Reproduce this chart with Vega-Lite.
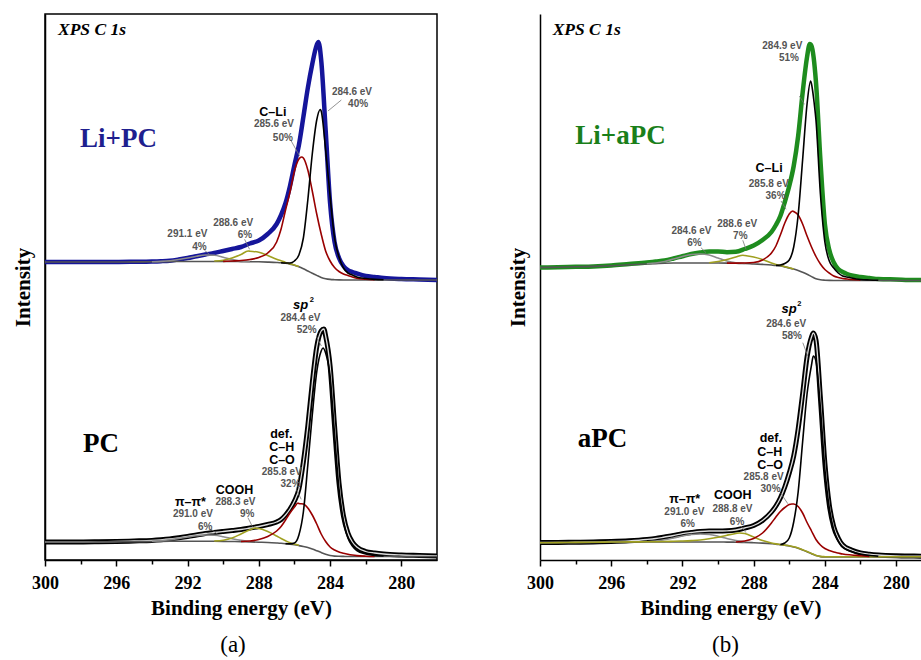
{
"$schema":"https://vega.github.io/schema/vega-lite/v6.json",
"padding":{"left":11,"top":13,"right":0,"bottom":2},
"spacing":66,
"config":{
 "view":{"stroke":"black","strokeWidth":1.5},
 "axis":{"grid":false,"domainColor":"black","domainWidth":1.5,"tickColor":"black","tickWidth":1.5,"labelFont":"Liberation Serif","labelFontSize":18,"labelFontWeight":"bold","labelColor":"black","titleFont":"Liberation Serif","titleFontSize":21,"titleFontWeight":"bold","titleColor":"black"},
 "axisX":{"labelPadding":8,"titlePadding":5,"labelFlush":false,"labelOverlap":false},
 "axisY":{"labels":false,"ticks":false,"titlePadding":12},
 "title":{"font":"Liberation Serif","fontSize":23,"fontWeight":"normal","color":"black","orient":"bottom","offset":16,"frame":"group","anchor":"middle"}
},
"datasets":{
"sa":[
{"sp":"u","x":300,"d":298,"b":298},
{"sp":"u","x":299,"d":298,"b":298},
{"sp":"u","x":298,"d":298,"b":298},
{"sp":"u","x":297,"d":298,"b":298},
{"sp":"u","x":296,"d":298,"b":298},
{"sp":"u","x":295,"d":298.2,"b":298.1},
{"sp":"u","x":294,"d":298.5,"b":298.2,"g":298.2},
{"sp":"u","x":293.5,"d":298.8,"b":298.3,"g":298.6},
{"sp":"u","x":293,"d":299.3,"b":298.4,"g":299.3},
{"sp":"u","x":292.5,"d":300.5,"b":298.5,"g":300.5},
{"sp":"u","x":292,"d":302,"b":298.5,"g":302},
{"sp":"u","x":291.5,"d":303.8,"b":298.5,"g":303.8},
{"sp":"u","x":291,"d":305.5,"b":298.5,"g":305},
{"sp":"u","x":290.5,"d":307,"b":298.5,"g":304.8,"o":299},
{"sp":"u","x":290,"d":309,"b":298.5,"g":302.8,"o":299.8,"r":298.6},
{"sp":"u","x":289.5,"d":311,"b":298.5,"g":300.5,"o":302,"r":299},
{"sp":"u","x":289,"d":313,"b":298.4,"g":299,"o":305.5,"r":299.5},
{"sp":"u","x":288.6,"o":309},
{"sp":"u","x":288.5,"d":316.5,"b":298.3,"g":298.4,"o":308.8,"r":300.5},
{"sp":"u","x":288,"d":319.5,"b":298.2,"o":307.8,"r":302.5},
{"sp":"u","x":287.5,"d":326,"b":297.9,"o":304.5,"r":307},
{"sp":"u","x":287,"d":336,"b":297.5,"o":300.8,"r":318},
{"sp":"u","x":286.75,"d":345,"b":297.2,"o":299.2,"r":331,"k":297.3},
{"sp":"u","x":286.5,"d":357,"b":296.7,"o":297.6,"r":350,"k":297},
{"sp":"u","x":286.25,"d":374,"b":295.9,"o":296.2,"r":368,"k":297},
{"sp":"u","x":286,"d":395,"b":294.8,"o":295,"r":389,"k":299},
{"sp":"u","x":285.75,"d":415,"b":293.2,"o":293.4,"r":401,"k":305},
{"sp":"u","x":285.6,"r":403},
{"sp":"u","x":285.5,"d":443,"b":291.2,"r":402,"k":322},
{"sp":"u","x":285.25,"d":472,"b":289,"r":390,"k":360},
{"sp":"u","x":285,"d":496,"b":286.8,"r":369,"k":406},
{"sp":"u","x":284.75,"d":515,"b":284.6,"r":346,"k":440},
{"sp":"u","x":284.65,"d":518},
{"sp":"u","x":284.55,"k":450.5},
{"sp":"u","x":284.5,"d":500,"b":282.6,"r":326,"k":449},
{"sp":"u","x":284.25,"d":430,"b":281.3,"r":309,"k":410},
{"sp":"u","x":284,"d":357,"b":280.6,"r":299,"k":364},
{"sp":"u","x":283.75,"d":318,"b":280.3,"r":292.5,"k":322},
{"sp":"u","x":283.5,"d":302,"b":280.1,"r":288.5,"k":303},
{"sp":"u","x":283.25,"d":294,"b":280,"r":286,"k":292},
{"sp":"u","x":283,"d":290,"b":280,"r":284.5,"k":287},
{"sp":"u","x":282.75,"d":288,"b":280,"r":283,"k":285},
{"sp":"u","x":282.5,"d":286.5,"b":280,"r":281.8,"k":283},
{"sp":"u","x":282,"d":284,"b":280,"r":280.7,"k":281.5},
{"sp":"u","x":281.5,"d":283,"b":280,"r":280.2,"k":280.6},
{"sp":"u","x":281,"d":282,"b":280,"k":280.2},
{"sp":"u","x":280,"d":281,"b":280},
{"sp":"u","x":279,"d":280.5,"b":280},
{"sp":"u","x":278,"d":280,"b":280},
{"sp":"l","x":300,"d":18,"b":18},
{"sp":"l","x":299,"d":18,"b":18},
{"sp":"l","x":298,"d":18,"b":18},
{"sp":"l","x":297,"d":18.2,"b":18.1},
{"sp":"l","x":296,"d":18.5,"b":18.2},
{"sp":"l","x":295,"d":19,"b":18.3},
{"sp":"l","x":294,"d":19.6,"b":18.5,"g":18.7},
{"sp":"l","x":293.5,"d":20.2,"b":18.6,"g":19.3},
{"sp":"l","x":293,"d":21,"b":18.7,"g":20.3},
{"sp":"l","x":292.5,"d":22.2,"b":18.8,"g":21.6},
{"sp":"l","x":292,"d":23.5,"b":18.8,"g":23},
{"sp":"l","x":291.5,"d":25,"b":18.8,"g":24.3},
{"sp":"l","x":291,"d":26.5,"b":18.8,"g":25},
{"sp":"l","x":290.5,"d":27.5,"b":18.7,"g":24.7,"o":19},
{"sp":"l","x":290,"d":28.5,"b":18.6,"g":23.3,"o":19.8},
{"sp":"l","x":289.5,"d":29.5,"b":18.5,"g":21.3,"o":22},
{"sp":"l","x":289,"d":30.5,"b":18.3,"g":19.6,"o":26,"r":18.5},
{"sp":"l","x":288.5,"d":32,"b":18.1,"g":18.5,"o":30.3,"r":19},
{"sp":"l","x":288.2,"o":32},
{"sp":"l","x":288,"d":33.5,"b":17.8,"o":31.5,"r":20.5},
{"sp":"l","x":287.5,"d":35.5,"b":17.5,"o":28.5,"r":23.5},
{"sp":"l","x":287,"d":38,"b":17,"o":24,"r":29},
{"sp":"l","x":286.75,"d":40.5,"b":16.7,"o":21.5,"r":33.5},
{"sp":"l","x":286.5,"d":45,"b":16.3,"o":19.3,"r":40,"k":16.4},
{"sp":"l","x":286.25,"d":51,"b":15.8,"o":17.3,"r":47,"k":16.2},
{"sp":"l","x":286,"d":59,"b":15.2,"o":16,"r":53,"k":17},
{"sp":"l","x":285.8,"r":57},
{"sp":"l","x":285.75,"d":71,"b":14.4,"o":14.8,"r":56.5,"k":25},
{"sp":"l","x":285.5,"d":98,"b":13.5,"r":56,"k":48},
{"sp":"l","x":285.25,"d":134,"b":12.4,"r":52,"k":95},
{"sp":"l","x":285,"d":177,"b":11,"r":45,"k":145},
{"sp":"l","x":284.75,"d":213,"b":9.3,"r":36,"k":188},
{"sp":"l","x":284.5,"d":229,"b":7.5,"r":26,"k":209},
{"sp":"l","x":284.4,"k":212},
{"sp":"l","x":284.35,"d":231},
{"sp":"l","x":284.25,"d":224,"b":5.8,"r":18.5,"k":207},
{"sp":"l","x":284,"d":194,"b":4.5,"r":13,"k":184},
{"sp":"l","x":283.75,"d":134,"b":3.9,"r":10,"k":126},
{"sp":"l","x":283.5,"d":77,"b":3.7,"r":8,"k":71},
{"sp":"l","x":283.25,"d":44,"b":3.6,"r":6.8,"k":39},
{"sp":"l","x":283,"d":27,"b":3.5,"r":5.8,"k":22},
{"sp":"l","x":282.75,"d":18,"b":3.5,"r":5,"k":14},
{"sp":"l","x":282.5,"d":13,"b":3.5,"r":4.4,"k":9.5},
{"sp":"l","x":282,"d":8.5,"b":3.5,"r":3.8,"k":6},
{"sp":"l","x":281.5,"d":7,"b":3.5,"r":3.5,"k":4.5},
{"sp":"l","x":281,"d":6,"b":3.5,"k":4},
{"sp":"l","x":280,"d":5,"b":3.5},
{"sp":"l","x":279,"d":4.5,"b":3.5},
{"sp":"l","x":278,"d":4,"b":3.5}
],
"sb":[
{"sp":"u","x":300,"d":292.5,"b":292.5},
{"sp":"u","x":299,"d":292.8,"b":292.8},
{"sp":"u","x":298,"d":293.2,"b":293.2},
{"sp":"u","x":297,"d":293.6,"b":293.6},
{"sp":"u","x":296,"d":294.5,"b":294.3},
{"sp":"u","x":295,"d":296,"b":295.2},
{"sp":"u","x":294,"d":297.5,"b":296,"g":296.3},
{"sp":"u","x":293.5,"d":298.5,"b":296.4,"g":297},
{"sp":"u","x":293,"d":299.5,"b":296.8,"g":298.5},
{"sp":"u","x":292.5,"d":301.5,"b":297,"g":301},
{"sp":"u","x":292,"d":303.8,"b":297,"g":303.5},
{"sp":"u","x":291.5,"d":306,"b":297,"g":305.5},
{"sp":"u","x":291,"d":307.5,"b":297,"g":306},
{"sp":"u","x":290.5,"d":308.5,"b":297,"g":305,"o":297.3},
{"sp":"u","x":290,"d":308.5,"b":297,"g":302,"o":298.5},
{"sp":"u","x":289.5,"d":307.8,"b":296.9,"g":299,"o":300.5,"r":296.9},
{"sp":"u","x":289,"d":308.2,"b":296.7,"g":297.2,"o":303,"r":296.9},
{"sp":"u","x":288.6,"o":304.7},
{"sp":"u","x":288.5,"d":311,"b":296.5,"g":296.6,"o":304.5,"r":297},
{"sp":"u","x":288,"d":314.5,"b":296,"o":303,"r":297.5},
{"sp":"u","x":287.5,"d":320,"b":295.6,"o":300.5,"r":300},
{"sp":"u","x":287,"d":328,"b":295,"o":297,"r":307},
{"sp":"u","x":286.75,"d":335,"b":294.5,"o":295.6,"r":314,"k":294.6},
{"sp":"u","x":286.5,"d":344,"b":294,"o":294.5,"r":325,"k":295},
{"sp":"u","x":286.25,"d":358,"b":293.1,"o":293.3,"r":337,"k":296.5},
{"sp":"u","x":286,"d":374,"b":292,"o":292.2,"r":346,"k":300},
{"sp":"u","x":285.8,"r":349},
{"sp":"u","x":285.75,"d":394,"b":290.9,"o":291,"r":348.5,"k":313},
{"sp":"u","x":285.5,"d":424,"b":289.5,"r":345,"k":345},
{"sp":"u","x":285.25,"d":467,"b":287.7,"r":336,"k":400},
{"sp":"u","x":285,"d":503,"b":285.7,"r":324,"k":456},
{"sp":"u","x":284.85,"d":516},
{"sp":"u","x":284.8,"k":479},
{"sp":"u","x":284.75,"d":514,"b":283.4,"r":313,"k":476},
{"sp":"u","x":284.6,"k":457},
{"sp":"u","x":284.5,"d":478,"b":281.2,"r":303.5,"k":440},
{"sp":"u","x":284.25,"d":400,"b":280.2,"r":296,"k":366},
{"sp":"u","x":284,"d":336,"b":279.8,"r":290.5,"k":318},
{"sp":"u","x":283.75,"d":310,"b":279.6,"r":287,"k":299},
{"sp":"u","x":283.5,"d":297.5,"b":279.5,"r":284,"k":292},
{"sp":"u","x":283.25,"d":291,"b":279.5,"r":282.5,"k":287},
{"sp":"u","x":283,"d":288,"b":279.5,"r":281.5,"k":284},
{"sp":"u","x":282.75,"d":286,"b":279.5,"r":281,"k":283},
{"sp":"u","x":282.5,"d":284.5,"b":279.5,"r":280.5,"k":282},
{"sp":"u","x":282,"d":283,"b":279.5,"r":280,"k":280.5},
{"sp":"u","x":281.5,"d":282,"b":279.5,"k":280},
{"sp":"u","x":281,"d":281,"b":279.5,"k":279.7},
{"sp":"u","x":280,"d":280.5,"b":279.5},
{"sp":"u","x":279,"d":280,"b":279.5},
{"sp":"u","x":278.6,"d":280,"b":279.5},
{"sp":"l","x":300,"d":17.5,"b":17,"o":17.2},
{"sp":"l","x":299,"d":17.6,"b":17.2,"o":17.4},
{"sp":"l","x":298,"d":17.8,"b":17.4,"o":17.6},
{"sp":"l","x":297,"d":18.1,"b":17.6,"o":17.8},
{"sp":"l","x":296,"d":18.5,"b":17.8,"o":18},
{"sp":"l","x":295,"d":19.2,"b":17.9,"o":18.1},
{"sp":"l","x":294,"d":20.5,"b":18,"o":18.2,"g":18.3},
{"sp":"l","x":293.5,"d":21.5,"b":18,"o":18.3,"g":19},
{"sp":"l","x":293,"d":23,"b":18,"o":18.5,"g":20.2},
{"sp":"l","x":292.5,"d":24.5,"b":18,"o":18.7,"g":22},
{"sp":"l","x":292,"d":26.3,"b":18,"o":19,"g":24},
{"sp":"l","x":291.5,"d":27.5,"b":18,"o":19.4,"g":25.5},
{"sp":"l","x":291,"d":28.5,"b":18,"o":20,"g":26},
{"sp":"l","x":290.5,"d":29,"b":18,"o":21.2,"g":25.5},
{"sp":"l","x":290,"d":29,"b":18,"o":22.8,"g":23.8},
{"sp":"l","x":289.5,"d":29.2,"b":17.9,"o":24.8,"g":21.5},
{"sp":"l","x":289,"d":30,"b":17.8,"o":26.5,"g":19.5,"r":18},
{"sp":"l","x":288.8,"o":27},
{"sp":"l","x":288.5,"d":32,"b":17.6,"o":26.5,"g":18.2,"r":19},
{"sp":"l","x":288,"d":34.5,"b":17.3,"o":23,"r":21.5},
{"sp":"l","x":287.5,"d":39.5,"b":16.9,"o":19.5,"r":27},
{"sp":"l","x":287,"d":48,"b":16.3,"o":17,"r":37},
{"sp":"l","x":286.75,"d":54,"b":15.9,"o":16.1,"r":43},
{"sp":"l","x":286.5,"d":62,"b":15.3,"o":15.5,"r":48.5,"k":15.5},
{"sp":"l","x":286.25,"d":73,"b":14.7,"o":14.9,"r":52.5,"k":17},
{"sp":"l","x":286,"d":87,"b":14,"o":14.2,"r":55.5,"k":22},
{"sp":"l","x":285.85,"r":56},
{"sp":"l","x":285.75,"d":104,"b":13,"o":13.2,"r":56,"k":38},
{"sp":"l","x":285.5,"d":131,"b":11.7,"o":11.9,"r":53.5,"k":68},
{"sp":"l","x":285.25,"d":166,"b":10.1,"o":10.3,"r":47,"k":118},
{"sp":"l","x":285,"d":203,"b":8.3,"o":8.5,"r":37.5,"k":166},
{"sp":"l","x":284.75,"d":223,"b":6.3,"o":6.5,"r":29,"k":195},
{"sp":"l","x":284.65,"d":227,"k":204},
{"sp":"l","x":284.5,"d":220,"b":4.4,"o":4.6,"r":20.5,"k":199},
{"sp":"l","x":284.25,"d":162,"b":3.4,"o":3.6,"r":15,"k":152},
{"sp":"l","x":284,"d":97,"b":3.1,"o":3.3,"r":11.5,"k":91},
{"sp":"l","x":283.75,"d":55,"b":3,"o":3.2,"r":9.5,"k":52},
{"sp":"l","x":283.5,"d":33,"b":3,"o":3.2,"r":8,"k":30},
{"sp":"l","x":283.25,"d":22,"b":3,"o":3.2,"r":7,"k":19},
{"sp":"l","x":283,"d":15,"b":3,"o":3.2,"r":6,"k":13},
{"sp":"l","x":282.5,"d":10,"b":3,"o":3.2,"r":5,"k":8.5},
{"sp":"l","x":282,"d":7,"b":3,"o":3.2,"r":4.3,"k":6},
{"sp":"l","x":281.5,"d":5.8,"b":3,"o":3.2,"r":3.5,"k":4.5},
{"sp":"l","x":281,"d":5,"b":3,"o":3.2,"k":3.8},
{"sp":"l","x":280,"d":4.2,"b":3,"o":3.2},
{"sp":"l","x":279,"d":3.9,"b":3,"o":3.2},
{"sp":"l","x":278.6,"d":3.8,"b":3,"o":3.2}
],
"ann":[
{"p":"a","c":"v","x":282.77,"y":468,"t":"284.6 eV"},
{"p":"a","c":"v","x":282.43,"y":456.3,"t":"40%"},
{"p":"a","c":"n","x":287.21,"y":448.3,"t":"C–Li"},
{"p":"a","c":"v","x":287.15,"y":435.7,"t":"285.6 eV"},
{"p":"a","c":"v","x":286.65,"y":422.3,"t":"50%"},
{"p":"a","c":"v","x":289.44,"y":336.7,"t":"288.6 eV"},
{"p":"a","c":"v","x":288.78,"y":325,"t":"6%"},
{"p":"a","c":"v","x":292.01,"y":326.3,"t":"291.1 eV"},
{"p":"a","c":"v","x":291.33,"y":313.3,"t":"4%"},
{"p":"a","c":"s","x":285.65,"y":251.5,"t":"sp"},
{"p":"a","c":"sup","x":285.03,"y":260.5,"t":"2"},
{"p":"a","c":"v","x":285.66,"y":242.3,"t":"284.4 eV"},
{"p":"a","c":"v","x":285.31,"y":230,"t":"52%"},
{"p":"a","c":"n","x":286.74,"y":126.3,"t":"def."},
{"p":"a","c":"n","x":286.71,"y":113,"t":"C–H"},
{"p":"a","c":"n","x":286.7,"y":99.7,"t":"C–O"},
{"p":"a","c":"v","x":286.71,"y":87.7,"t":"285.8 eV"},
{"p":"a","c":"v","x":286.22,"y":75.7,"t":"32%"},
{"p":"a","c":"n","x":289.37,"y":70,"t":"COOH"},
{"p":"a","c":"v","x":289.31,"y":58.3,"t":"288.3 eV"},
{"p":"a","c":"v","x":288.65,"y":46.3,"t":"9%"},
{"p":"a","c":"n","x":291.84,"y":58,"t":"π–π*"},
{"p":"a","c":"v","x":291.7,"y":45.7,"t":"291.0 eV"},
{"p":"a","c":"v","x":291.01,"y":33.3,"t":"6%"},
{"p":"a","c":"h","x":299.27,"y":525.5,"t":"XPS C 1s"},
{"p":"a","c":"L1","x":298.03,"y":413,"t":"Li+PC"},
{"p":"a","c":"L2","x":297.87,"y":108,"t":"PC"},
{"p":"b","c":"v","x":286.39,"y":514,"t":"284.9 eV"},
{"p":"b","c":"v","x":286.02,"y":501.7,"t":"51%"},
{"p":"b","c":"n","x":287.13,"y":391.7,"t":"C–Li"},
{"p":"b","c":"v","x":287.15,"y":376.3,"t":"285.8 eV"},
{"p":"b","c":"v","x":286.77,"y":364,"t":"36%"},
{"p":"b","c":"v","x":288.92,"y":336.3,"t":"288.6 eV"},
{"p":"b","c":"v","x":288.75,"y":324,"t":"7%"},
{"p":"b","c":"v","x":291.49,"y":329,"t":"284.6 eV"},
{"p":"b","c":"v","x":291.33,"y":317,"t":"6%"},
{"p":"b","c":"s","x":286.01,"y":247,"t":"sp"},
{"p":"b","c":"sup","x":285.43,"y":256.3,"t":"2"},
{"p":"b","c":"v","x":286.17,"y":236.3,"t":"284.6 eV"},
{"p":"b","c":"v","x":285.85,"y":224,"t":"58%"},
{"p":"b","c":"n","x":287.04,"y":121.7,"t":"def."},
{"p":"b","c":"n","x":287.1,"y":108.3,"t":"C–H"},
{"p":"b","c":"n","x":287.07,"y":95,"t":"C–O"},
{"p":"b","c":"v","x":287.44,"y":83,"t":"285.8 eV"},
{"p":"b","c":"v","x":287.05,"y":70.7,"t":"30%"},
{"p":"b","c":"n","x":289.17,"y":64.7,"t":"COOH"},
{"p":"b","c":"v","x":289.19,"y":51,"t":"288.8 eV"},
{"p":"b","c":"v","x":288.93,"y":38.3,"t":"6%"},
{"p":"b","c":"n","x":291.87,"y":60.7,"t":"π–π*"},
{"p":"b","c":"v","x":291.89,"y":47.7,"t":"291.0 eV"},
{"p":"b","c":"v","x":291.7,"y":35.7,"t":"6%"},
{"p":"b","c":"h","x":299.29,"y":524.7,"t":"XPS C 1s"},
{"p":"b","c":"L1","x":298.02,"y":415.7,"t":"Li+aPC"},
{"p":"b","c":"L2","x":297.88,"y":113.3,"t":"aPC"}
],
"lead":[
{"p":"a","x":283.37,"y":460,"x2":284.12,"y2":449},
{"p":"a","x":286.18,"y":419,"x2":285.71,"y2":404},
{"p":"a","x":288.8,"y":320.7,"x2":288.52,"y2":310.7},
{"p":"a","x":291.05,"y":309.7,"x2":290.77,"y2":305.7},
{"p":"a","x":284.78,"y":224,"x2":284.49,"y2":214},
{"p":"a","x":285.9,"y":70.7,"x2":285.62,"y2":60.7},
{"p":"a","x":288.61,"y":42.3,"x2":288.33,"y2":32.3},
{"p":"a","x":290.67,"y":30.7,"x2":290.3,"y2":25.7},
{"p":"b","x":285.43,"y":464,"x2":285.15,"y2":455.7},
{"p":"b","x":286.46,"y":359,"x2":286.18,"y2":350.7},
{"p":"b","x":288.61,"y":319.7,"x2":288.43,"y2":310.7},
{"p":"b","x":290.96,"y":312.3,"x2":290.67,"y2":307.3},
{"p":"b","x":285.24,"y":217.3,"x2":284.96,"y2":204},
{"p":"b","x":286.46,"y":66.3,"x2":286.08,"y2":56.3},
{"p":"b","x":288.71,"y":34,"x2":288.43,"y2":27.3}
]
},
"hconcat":[
{
 "width":392,"height":546,
 "title":{"text":"(a)","dx":-8},
 "encoding":{
  "x":{"field":"x","type":"quantitative","scale":{"domain":[278,300],"reverse":true,"nice":false,"zero":false},
   "axis":{"title":"Binding energy (eV)","values":[300,298,296,294,292,290,288,286,284,282,280],"labelExpr":"datum.value % 4 == 0 ? datum.label : ''","tickSize":{"condition":{"test":"datum.value % 4 == 0","value":6},"value":4}}},
  "y":{"field":"y","type":"quantitative","scale":{"domain":[0,546],"nice":false,"zero":false},"axis":{"title":"Intensity"}}
 },
 "layer":[
  {"data":{"values":[{}]},"mark":{"type":"rule","color":"#777777","strokeWidth":0.8,"strokeDash":[2,2]},"encoding":{"x":{"datum":284.35},"y":{"datum":0},"y2":{"datum":522}}},
  {"data":{"name":"sa"},"transform":[{"fold":["d","b","g","o","r","k"],"as":["key","y"]},{"filter":{"field":"y","valid":true}}],
   "layer":[
    {"transform":[{"filter":"datum.key=='d' && datum.sp=='u'"}],"mark":{"type":"line","color":"#15159a","strokeWidth":4.5,"interpolate":"monotone","strokeJoin":"round"},"encoding":{}},
    {"transform":[{"filter":"datum.key=='d' && datum.sp=='l'"}],"mark":{"type":"line","color":"#000000","strokeWidth":5,"interpolate":"monotone","strokeJoin":"round"},"encoding":{}},
    {"transform":[{"filter":"datum.key=='d' && datum.sp=='l'"}],"mark":{"type":"line","color":"#dddddd","strokeWidth":1.3,"interpolate":"monotone"},"encoding":{}},
    {"transform":[{"filter":"datum.key=='b'"}],"mark":{"type":"line","color":"#555555","strokeWidth":1.6,"interpolate":"monotone"},"encoding":{"detail":{"field":"sp"}}},
    {"transform":[{"filter":"datum.key=='g'"}],"mark":{"type":"line","color":"#8c8c8c","strokeWidth":1.6,"interpolate":"monotone"},"encoding":{"detail":{"field":"sp"}}},
    {"transform":[{"filter":"datum.key=='o'"}],"mark":{"type":"line","color":"#a0a020","strokeWidth":1.6,"interpolate":"monotone"},"encoding":{"detail":{"field":"sp"}}},
    {"transform":[{"filter":"datum.key=='r'"}],"mark":{"type":"line","color":"#990000","strokeWidth":1.6,"interpolate":"monotone"},"encoding":{"detail":{"field":"sp"}}},
    {"transform":[{"filter":"datum.key=='k'"}],"mark":{"type":"line","color":"#000000","strokeWidth":1.6,"interpolate":"monotone"},"encoding":{"detail":{"field":"sp"}}}
   ]},
  {"data":{"name":"lead"},"transform":[{"filter":"datum.p=='a'"}],"mark":{"type":"rule","color":"#777777","strokeWidth":0.8},"encoding":{"x2":{"field":"x2"},"y2":{"field":"y2"}}},
  {"data":{"name":"ann"},"transform":[{"filter":"datum.p=='a'"}],"encoding":{"text":{"field":"t"}},
   "layer":[
    {"transform":[{"filter":"datum.c=='v'"}],"mark":{"type":"text","font":"Liberation Sans","fontSize":10,"fontWeight":"bold","color":"#555555","align":"center","baseline":"middle"}},
    {"transform":[{"filter":"datum.c=='n'"}],"mark":{"type":"text","font":"Liberation Sans","fontSize":12.5,"fontWeight":"bold","color":"#000000","align":"center","baseline":"middle"}},
    {"transform":[{"filter":"datum.c=='s'"}],"mark":{"type":"text","font":"Liberation Sans","fontSize":13,"fontWeight":"bold","fontStyle":"italic","color":"#000000","align":"center","baseline":"alphabetic"}},
    {"transform":[{"filter":"datum.c=='sup'"}],"mark":{"type":"text","font":"Liberation Sans","fontSize":7.5,"fontWeight":"bold","color":"#000000","align":"center","baseline":"middle"}},
    {"transform":[{"filter":"datum.c=='h'"}],"mark":{"type":"text","font":"Liberation Serif","fontSize":17.5,"fontWeight":"bold","fontStyle":"italic","color":"#000000","align":"left","baseline":"alphabetic"}},
    {"transform":[{"filter":"datum.c=='L1'"}],"mark":{"type":"text","font":"Liberation Serif","fontSize":27,"fontWeight":"bold","color":"#1f1f8f","align":"left","baseline":"alphabetic"}},
    {"transform":[{"filter":"datum.c=='L2'"}],"mark":{"type":"text","font":"Liberation Serif","fontSize":27,"fontWeight":"bold","color":"#000000","align":"left","baseline":"alphabetic"}}
   ]}
 ]
},
{
 "width":381,"height":546,
 "view":{"stroke":null},
 "title":{"text":"(b)","dx":-5},
 "encoding":{
  "x":{"field":"x","type":"quantitative","scale":{"domain":[278.6,300],"reverse":true,"nice":false,"zero":false},
   "axis":{"title":"Binding energy (eV)","values":[300,298,296,294,292,290,288,286,284,282,280],"labelExpr":"datum.value % 4 == 0 ? datum.label : ''","tickSize":{"condition":{"test":"datum.value % 4 == 0","value":6},"value":4}}},
  "y":{"field":"y","type":"quantitative","scale":{"domain":[0,546],"nice":false,"zero":false},"axis":{"title":"Intensity"}}
 },
 "layer":[
  {"data":{"values":[{}]},"mark":{"type":"rule","color":"#000000","strokeWidth":1.5},"encoding":{"x":{"datum":300},"x2":{"datum":278.6},"y":{"datum":546}}},
  {"data":{"values":[{}]},"mark":{"type":"rule","color":"#777777","strokeWidth":0.8,"strokeDash":[2,2]},"encoding":{"x":{"datum":284.6},"y":{"datum":0},"y2":{"datum":524}}},
  {"data":{"name":"sb"},"transform":[{"fold":["d","b","g","o","r","k"],"as":["key","y"]},{"filter":{"field":"y","valid":true}}],
   "layer":[
    {"transform":[{"filter":"datum.key=='d' && datum.sp=='u'"}],"mark":{"type":"line","color":"#1e8c1e","strokeWidth":4.5,"interpolate":"monotone","strokeJoin":"round"},"encoding":{}},
    {"transform":[{"filter":"datum.key=='d' && datum.sp=='l'"}],"mark":{"type":"line","color":"#000000","strokeWidth":5,"interpolate":"monotone","strokeJoin":"round"},"encoding":{}},
    {"transform":[{"filter":"datum.key=='d' && datum.sp=='l'"}],"mark":{"type":"line","color":"#dddddd","strokeWidth":1.3,"interpolate":"monotone"},"encoding":{}},
    {"transform":[{"filter":"datum.key=='b'"}],"mark":{"type":"line","color":"#555555","strokeWidth":1.6,"interpolate":"monotone"},"encoding":{"detail":{"field":"sp"}}},
    {"transform":[{"filter":"datum.key=='g'"}],"mark":{"type":"line","color":"#8c8c8c","strokeWidth":1.6,"interpolate":"monotone"},"encoding":{"detail":{"field":"sp"}}},
    {"transform":[{"filter":"datum.key=='o'"}],"mark":{"type":"line","color":"#a0a020","strokeWidth":1.6,"interpolate":"monotone"},"encoding":{"detail":{"field":"sp"}}},
    {"transform":[{"filter":"datum.key=='r'"}],"mark":{"type":"line","color":"#990000","strokeWidth":1.6,"interpolate":"monotone"},"encoding":{"detail":{"field":"sp"}}},
    {"transform":[{"filter":"datum.key=='k'"}],"mark":{"type":"line","color":"#000000","strokeWidth":1.6,"interpolate":"monotone"},"encoding":{"detail":{"field":"sp"}}}
   ]},
  {"data":{"name":"lead"},"transform":[{"filter":"datum.p=='b'"}],"mark":{"type":"rule","color":"#777777","strokeWidth":0.8},"encoding":{"x2":{"field":"x2"},"y2":{"field":"y2"}}},
  {"data":{"name":"ann"},"transform":[{"filter":"datum.p=='b'"}],"encoding":{"text":{"field":"t"}},
   "layer":[
    {"transform":[{"filter":"datum.c=='v'"}],"mark":{"type":"text","font":"Liberation Sans","fontSize":10,"fontWeight":"bold","color":"#555555","align":"center","baseline":"middle"}},
    {"transform":[{"filter":"datum.c=='n'"}],"mark":{"type":"text","font":"Liberation Sans","fontSize":12.5,"fontWeight":"bold","color":"#000000","align":"center","baseline":"middle"}},
    {"transform":[{"filter":"datum.c=='s'"}],"mark":{"type":"text","font":"Liberation Sans","fontSize":13,"fontWeight":"bold","fontStyle":"italic","color":"#000000","align":"center","baseline":"alphabetic"}},
    {"transform":[{"filter":"datum.c=='sup'"}],"mark":{"type":"text","font":"Liberation Sans","fontSize":7.5,"fontWeight":"bold","color":"#000000","align":"center","baseline":"middle"}},
    {"transform":[{"filter":"datum.c=='h'"}],"mark":{"type":"text","font":"Liberation Serif","fontSize":17.5,"fontWeight":"bold","fontStyle":"italic","color":"#000000","align":"left","baseline":"alphabetic"}},
    {"transform":[{"filter":"datum.c=='L1'"}],"mark":{"type":"text","font":"Liberation Serif","fontSize":27,"fontWeight":"bold","color":"#1a7f1a","align":"left","baseline":"alphabetic"}},
    {"transform":[{"filter":"datum.c=='L2'"}],"mark":{"type":"text","font":"Liberation Serif","fontSize":27,"fontWeight":"bold","color":"#000000","align":"left","baseline":"alphabetic"}}
   ]}
 ]
}
]
}
